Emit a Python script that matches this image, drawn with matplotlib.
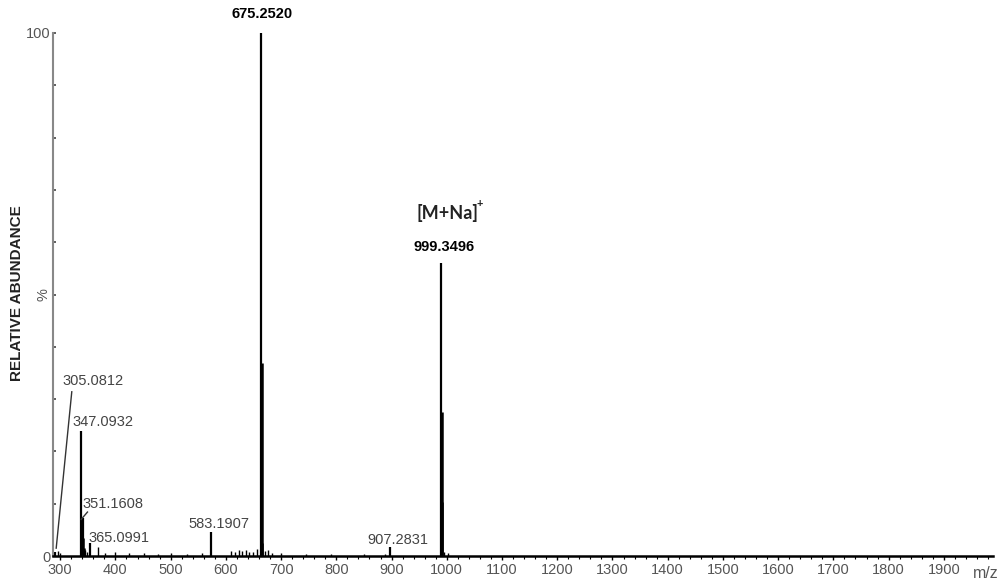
import matplotlib.pyplot as plt
import numpy as np

#################################
## 데이터 (picture 에서 읽은 값)
#################################
# 주요 피크 (그려진 위치, 상대 강도 %)
peak_mz = [291, 338, 341, 354, 573, 664, 897, 990]
peak_int = [0.8, 23.9, 7.2, 2.4, 4.6, 100.0, 1.8, 56.1]
peak_labels = ['305.0812', '347.0932', '351.1608', '365.0991',
               '583.1907', '675.2520', '907.2831', '999.3496']

# 동위원소 / 어깨 피크
iso_mz = [339, 340, 342, 343, 665, 666, 991, 992]
iso_int = [5.0, 3.0, 3.5, 1.5, 36.9, 2.5, 27.6, 10.4]

# 잡음 피크
noise_mz = [296, 300, 345, 348, 369, 381, 400, 425, 452, 478, 500, 530, 556,
            610, 617, 624, 630, 636, 642, 650, 657, 670, 676, 684, 700, 745,
            790, 850, 889, 995, 1002]
noise_int = [0.9, 0.5, 1.2, 0.8, 1.8, 0.6, 0.7, 0.5, 0.5, 0.4, 0.6, 0.4, 0.5,
             1.0, 0.8, 1.1, 0.9, 1.2, 0.7, 0.8, 1.3, 0.9, 1.2, 0.6, 0.5, 0.4,
             0.4, 0.4, 0.4, 0.8, 0.5]

x_ticks = list(range(300, 2000, 100))

#################################
## 차트 그리기
#################################
plt.rcParams['font.family'] = ['Liberation Sans', 'DejaVu Sans']

fig = plt.figure(figsize=(10.05, 5.81), dpi=100)
ax = fig.add_axes([53 / 1005, 25 / 581, 940 / 1005, 523 / 581])

ax.vlines(noise_mz, 0, noise_int, color='black', lw=1.0)
ax.vlines(iso_mz, 0, iso_int, color='black', lw=1.8)
ax.vlines(peak_mz, 0, peak_int, color='black', lw=1.6)

ax.set_xlim(287, 1989)
ax.set_ylim(0, 100)

for s in ['top', 'right']:
    ax.spines[s].set_visible(False)
ax.spines['left'].set_color('#888888')
ax.spines['left'].set_linewidth(1.5)
ax.spines['bottom'].set_color('black')
ax.spines['bottom'].set_linewidth(1.8)

ax.set_xticks(x_ticks)
ax.set_xticks(np.arange(300, 1990, 20), minor=True)
ax.tick_params(axis='x', which='major', direction='out', length=3, width=1,
               labelsize=10.5, labelcolor='#555555', pad=2)
ax.tick_params(axis='x', which='minor', direction='out', length=2, width=0.8)

ax.set_yticks(np.arange(0, 101, 10))
ax.set_yticklabels(['0', '', '', '', '', '%', '', '', '', '', '100'])
ax.tick_params(axis='y', direction='in', length=2, width=1.2, color='#444444',
               labelsize=10.5, labelcolor='#555555', pad=2)
for lab in ax.get_yticklabels():
    if lab.get_text() == '%':
        lab.set_rotation(90)
        lab.set_va('center')

fig.text(17 / 1005, 1 - 293 / 581, 'RELATIVE ABUNDANCE', rotation=90,
         ha='center', va='center', fontsize=11, fontweight='bold', color='#222222')
fig.text(986 / 1005, 1 - 573 / 581, 'm/z', ha='center', va='center',
         fontsize=11.5, color='#555555')

#################################
## 피크 라벨
#################################
gray = '#444444'
ax.text(303.6, 33.5, peak_labels[0], fontsize=10.5, color=gray, va='center')
ax.plot([292.8, 321], [1.5, 31.4], color='#333333', lw=1.0)
ax.text(323, 25.6, peak_labels[1], fontsize=10.5, color=gray, va='center')
ax.text(339.8, 9.9, peak_labels[2], fontsize=10.5, color=gray, va='center')
ax.plot([338, 349.4], [7.0, 8.4], color='#333333', lw=1.0)
ax.text(350.7, 3.4, peak_labels[3], fontsize=10.5, color=gray, va='center')
ax.text(531.7, 6.1, peak_labels[4], fontsize=10.5, color=gray, va='center')
ax.text(855.7, 3.1, peak_labels[6], fontsize=10.5, color=gray, va='center')

ax.text(665.6, 103.6, peak_labels[5], fontsize=10.5, fontweight='bold',
        ha='center', va='center', clip_on=False)
ax.text(995, 59.1, peak_labels[7], fontsize=10.5, fontweight='bold',
        ha='center', va='center')
ax.text(1000.5, 65.6, '[M+Na]', fontsize=13, fontweight='bold', family='Lato',
        color='#222222', ha='center', va='center')
ax.text(1060, 67.4, '+', fontsize=8, fontweight='bold', family='Lato',
        color='#222222', ha='center', va='center')

plt.savefig('out.png', dpi=100)
